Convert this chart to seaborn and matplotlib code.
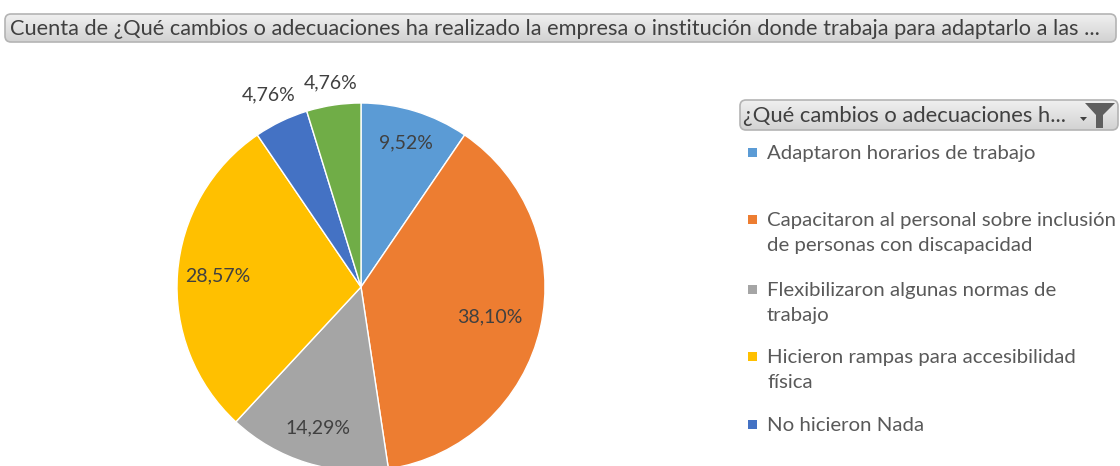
import numpy as np
import matplotlib
matplotlib.use("Agg")
import matplotlib.pyplot as plt
import seaborn as sns
from matplotlib.patches import FancyBboxPatch, Rectangle, Polygon

# Data
categories = [
    "Adaptaron horarios de trabajo",
    "Capacitaron al personal sobre inclusión\nde personas con discapacidad",
    "Flexibilizaron algunas normas de\ntrabajo",
    "Hicieron rampas para accesibilidad\nfísica",
    "No hicieron Nada",
    "Otros",
]
counts = [2, 8, 3, 6, 1, 1]
colors = ["#5B9BD5", "#ED7D31", "#A5A5A5", "#FFC000", "#4472C4", "#70AD47"]
label_dist = [0.82, 0.72, 0.80, 0.78, 1.16, 1.12]
shown_in_legend = 5

title = ("Cuenta de ¿Qué cambios o adecuaciones ha realizado la empresa o "
         "institución donde trabaja para adaptarlo a las ...")
legend_title = "¿Qué cambios o adecuaciones h..."

sns.set_theme(style="white")
plt.rcParams["font.family"] = ["Lato", "DejaVu Sans"]

W, H = 1120, 466
fig = plt.figure(figsize=(W / 100, H / 100), dpi=100)
fig.patch.set_facecolor("white")

# pie axes, centre (361, 287) px, radius 184 px
cx, cy, r = 361, 287, 184
ax = fig.add_axes([(cx - r) / W, (H - cy - r) / H, 2 * r / W, 2 * r / H])
palette = sns.color_palette(colors)
wedges, _, autotexts = ax.pie(
    counts, colors=palette, startangle=90, counterclock=False,
    autopct=lambda p: f"{p:.2f}%".replace(".", ","),
    wedgeprops=dict(edgecolor="white", linewidth=1),
    textprops=dict(color="#404040", fontsize=14))
ax.set_xlim(-1, 1)
ax.set_ylim(-1, 1)
for w, t, d in zip(wedges, autotexts, label_dist):
    ang = np.deg2rad((w.theta1 + w.theta2) / 2)
    t.set_position((d * np.cos(ang), d * np.sin(ang)))
    t.set_clip_on(False)

# overlay in pixel coords
ov = fig.add_axes([0, 0, 1, 1], zorder=5)
ov.set_xlim(0, W)
ov.set_ylim(H, 0)
ov.axis("off")
ov.patch.set_alpha(0)

renderer = fig.canvas.get_renderer()


def fit(t, width):
    bb = t.get_window_extent(renderer=renderer)
    t.set_fontsize(t.get_fontsize() * width / bb.width)


def button(x0, y0, x1, y1):
    box = FancyBboxPatch((x0, y0), x1 - x0, y1 - y0,
                         boxstyle="round,pad=0,rounding_size=6",
                         facecolor="none", edgecolor="#b4b4b4", linewidth=1.2, zorder=3)
    ov.add_patch(box)
    grad = np.linspace(0, 1, 50).reshape(-1, 1)
    im = ov.imshow(grad, cmap=matplotlib.colors.LinearSegmentedColormap.from_list(
        "g", ["#f0f0f0", "#d2d2d2"]), extent=(x0, x1, y1, y0), aspect="auto", zorder=2)
    im.set_clip_path(box)
    ov.set_xlim(0, W)
    ov.set_ylim(H, 0)


# title button
button(5, 14, 1116, 42)
tt = ov.text(10, 29, title, fontsize=14, color="#404040", va="center", ha="left", zorder=4)
fit(tt, 1098)

# legend header button
button(740, 100, 1118, 130)
lt = ov.text(743, 116, legend_title, fontsize=13, color="#404040", va="center", ha="left", zorder=4)
fit(lt, 322)
ov.add_patch(Polygon([(1085, 103), (1115, 103), (1103, 115), (1103, 128),
                      (1096, 128), (1096, 115)], closed=True, facecolor="#5f5f5f",
                     edgecolor="none", zorder=4))
ov.add_patch(Polygon([(1080, 117), (1087, 117), (1083.5, 121)], closed=True,
                     facecolor="#404040", edgecolor="none", zorder=4))

# legend entries
item_y = [153, 220, 290, 357, 425]
texts = []
for lab, col, y in zip(categories[:shown_in_legend], colors, item_y):
    ov.add_patch(Rectangle((748, y - 5), 9, 9, facecolor=col, edgecolor="none", zorder=4))
    t = ov.text(767, y - 8, lab, fontsize=12.5, color="#595959", va="top", ha="left",
                linespacing=1.55, zorder=4)
    texts.append(t)
ref = ov.text(767, 0, categories[1].split("\n")[0], fontsize=12.5, alpha=0)
bb = ref.get_window_extent(renderer=renderer)
scale = 350 / bb.width
for t in texts:
    t.set_fontsize(12.5 * scale)
ref.remove()

fig.savefig("out.png", dpi=100, facecolor="white")
